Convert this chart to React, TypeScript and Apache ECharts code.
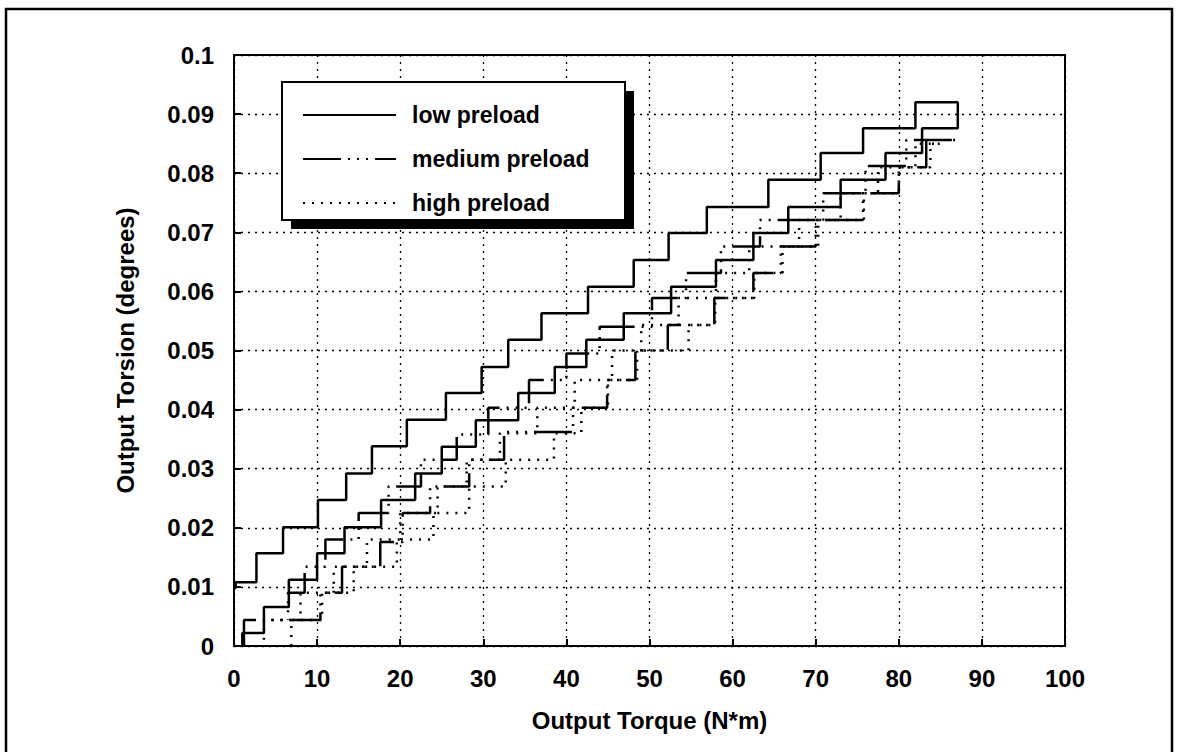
import React, { useEffect, useRef } from "react";
import * as echarts from "echarts";

// Output torque (N*m) at each step riser, and torsion level (degrees) reached there
const lowTorque = [1.0, 1.0, 3.6, 6.6, 10.0, 13.3, 17.7, 21.8, 25.0, 29.1, 34.2, 38.6, 42.4, 46.9, 52.6, 58.0, 62.5, 66.7, 73.0, 78.4, 82.8, 87.1, 82.0, 75.7, 70.6, 64.3, 56.9, 52.3, 48.1, 42.6, 37.0, 33.0, 29.8, 25.5, 20.8, 16.6, 13.5, 10.1, 5.9, 2.7, 0.2, 0.0];
const lowTorsion = [0, 0.0022, 0.0066, 0.0112, 0.0157, 0.0201, 0.0247, 0.0292, 0.0337, 0.0382, 0.0428, 0.0472, 0.0518, 0.0563, 0.0608, 0.0653, 0.0699, 0.0743, 0.0789, 0.0834, 0.0876, 0.092, 0.0876, 0.0834, 0.0789, 0.0743, 0.0699, 0.0653, 0.0608, 0.0563, 0.0518, 0.0472, 0.0428, 0.0383, 0.0338, 0.0292, 0.0247, 0.0201, 0.0157, 0.0108, 0.0098, 0.0098];

const mediumTorque = [1.2, 1.2, 10.4, 13.0, 17.6, 20.3, 23.6, 28.3, 32.5, 40.8, 44.9, 48.3, 52.2, 57.8, 62.5, 65.8, 70.0, 75.7, 80.0, 83.3, 87.0, 80.9, 76.0, 70.9, 63.3, 58.6, 54.4, 50.3, 44.0, 40.0, 35.5, 30.6, 26.8, 22.5, 18.6, 15.0, 11.0, 8.5, 6.5];
const mediumTorsion = [0, 0.0044, 0.009, 0.0134, 0.0176, 0.0225, 0.027, 0.0315, 0.0362, 0.0403, 0.045, 0.05, 0.0543, 0.0589, 0.0631, 0.0676, 0.0721, 0.0766, 0.081, 0.0856, 0.0856, 0.0812, 0.0766, 0.0721, 0.0676, 0.0631, 0.0589, 0.054, 0.0495, 0.045, 0.0403, 0.0358, 0.0315, 0.027, 0.0225, 0.018, 0.0134, 0.009, 0.0044];

const highTorque = [6.9, 6.9, 10.6, 14.4, 19.6, 24.0, 28.3, 32.7, 38.5, 41.8, 45.0, 48.5, 54.7, 57.9, 62.6, 66.0, 70.3, 75.8, 80.0, 83.8, 85.0, 82.0, 77.5, 73.0, 68.0, 62.0, 58.0, 53.5, 49.0, 45.5, 41.0, 36.5, 32.0, 28.0, 24.5, 20.0, 16.0, 12.0, 8.0, 3.6];
const highTorsion = [0, 0.0044, 0.009, 0.0134, 0.018, 0.0225, 0.027, 0.0315, 0.036, 0.0403, 0.045, 0.05, 0.0543, 0.0589, 0.0631, 0.0676, 0.0721, 0.0766, 0.081, 0.085, 0.085, 0.081, 0.0766, 0.0721, 0.0676, 0.0631, 0.0589, 0.0543, 0.05, 0.045, 0.0403, 0.036, 0.0315, 0.027, 0.0225, 0.018, 0.0134, 0.009, 0.0044, 0.0];

const seriesNames = ["low preload", "medium preload", "high preload"];
const xTitle = "Output Torque (N*m)";
const yTitle = "Output Torsion (degrees)";

const FONT = '"Liberation Sans", Arial, Helvetica, sans-serif';

function zip(xs: number[], ys: number[]) {
  return xs.map((x, i) => [x, ys[i]]);
}

export default function App() {
  const ref = useRef<HTMLDivElement>(null);
  useEffect(() => {
    if (!ref.current) return;
    const chart = echarts.init(ref.current, undefined, { renderer: "svg" });
    const black = "#000";
    const baseLine = { color: black, width: 2.5, cap: "butt" as const };
    chart.setOption({
      animation: false,
      backgroundColor: "#fff",
      color: [black, black, black],
      textStyle: { fontFamily: FONT },
      grid: {
        left: 234,
        top: 55,
        width: 831,
        height: 591,
        show: true,
        borderColor: black,
        borderWidth: 2,
        backgroundColor: "transparent",
      },
      xAxis: {
        type: "value",
        min: 0,
        max: 100,
        interval: 10,
        axisLine: { show: true, lineStyle: { color: black, width: 2 } },
        axisTick: { show: true, inside: true, length: 7, lineStyle: { color: black, width: 2 } },
        splitLine: { show: true, lineStyle: { color: black, width: 1.3, type: [2, 5] } },
        axisLabel: { color: black, fontSize: 24, fontWeight: "bold", fontFamily: FONT, margin: 20 },
        name: xTitle,
        nameLocation: "middle",
        nameGap: 62,
        nameTextStyle: { color: black, fontSize: 24, fontWeight: "bold", fontFamily: FONT },
      },
      yAxis: {
        type: "value",
        min: 0,
        max: 0.1,
        interval: 0.01,
        axisLine: { show: true, lineStyle: { color: black, width: 2 } },
        axisTick: { show: true, inside: true, length: 7, lineStyle: { color: black, width: 2 } },
        splitLine: { show: true, lineStyle: { color: black, width: 1.3, type: [2, 5] } },
        axisLabel: {
          color: black,
          fontSize: 24,
          fontWeight: "bold",
          fontFamily: FONT,
          margin: 20,
          formatter: (v: number) => (v === 0 ? "0" : Math.abs(v - 0.1) < 1e-9 ? "0.1" : v.toFixed(2)),
        },
        name: yTitle,
        nameLocation: "middle",
        nameGap: 97,
        nameTextStyle: { color: black, fontSize: 24, fontWeight: "bold", fontFamily: FONT },
      },
      legend: {
        orient: "vertical",
        left: 297,
        top: 98,
        itemWidth: 93,
        itemHeight: 24,
        itemGap: 20,
        z: 10,
        data: seriesNames,
        itemStyle: { opacity: 0 },
        textStyle: {
          color: black,
          fontSize: 23,
          fontWeight: "bold",
          fontFamily: FONT,
          lineHeight: 24,
          padding: [0, 0, 0, 11],
        },
      },
      graphic: [
        {
          type: "rect",
          z: 0,
          silent: true,
          shape: { x: 6, y: 9, width: 1166, height: 800 },
          style: { fill: "none", stroke: black, lineWidth: 2.5 },
        },
        {
          type: "rect",
          z: 8,
          silent: true,
          shape: { x: 291, y: 91, width: 343, height: 138 },
          style: { fill: black },
        },
        {
          type: "rect",
          z: 8,
          silent: true,
          shape: { x: 282, y: 82, width: 343, height: 138 },
          style: { fill: "#fff", stroke: black, lineWidth: 2 },
        },
      ],
      series: [
        {
          name: seriesNames[0],
          type: "line",
          step: "end",
          symbol: "none",
          itemStyle: { color: black },
          lineStyle: { ...baseLine, type: "solid" },
          data: zip(lowTorque, lowTorsion),
        },
        {
          name: seriesNames[1],
          type: "line",
          step: "end",
          symbol: "none",
          itemStyle: { color: black },
          lineStyle: { ...baseLine, type: [38, 7, 2, 7, 2, 7, 2, 7] },
          data: zip(mediumTorque, mediumTorsion),
        },
        {
          name: seriesNames[2],
          type: "line",
          step: "end",
          symbol: "none",
          itemStyle: { color: black },
          lineStyle: { ...baseLine, type: [2, 7] },
          data: zip(highTorque, highTorsion),
        },
      ],
    });
    return () => chart.dispose();
  }, []);
  return (
    <div
      ref={ref}
      style={{ position: "fixed", left: 0, top: 0, width: 1181, height: 752, background: "#fff" }}
    />
  );
}
